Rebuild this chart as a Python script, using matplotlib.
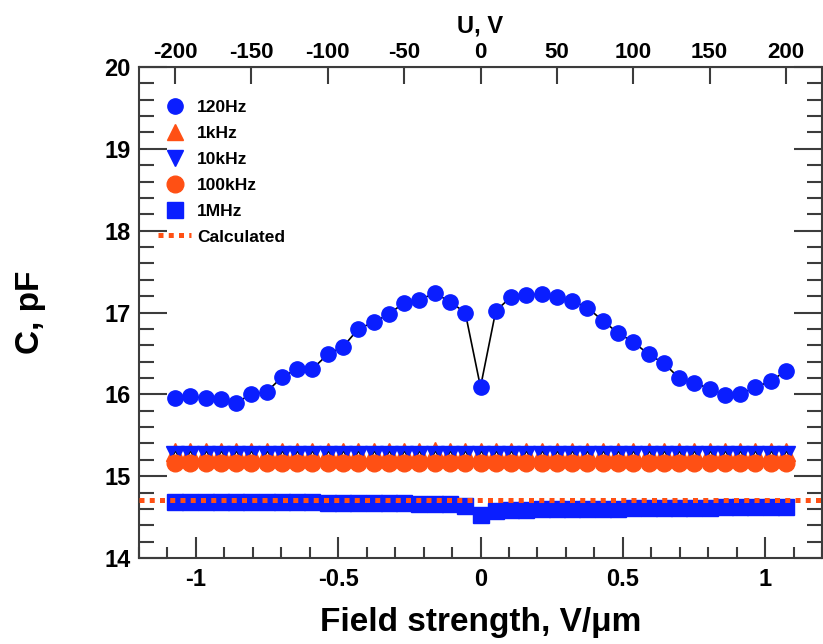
import matplotlib
matplotlib.use("Agg")
import matplotlib.pyplot as plt
from matplotlib.lines import Line2D
from matplotlib.ticker import MultipleLocator

plt.rcParams["font.family"] = ["Liberation Sans", "DejaVu Sans"]
plt.rcParams["font.weight"] = "bold"
plt.rcParams["axes.unicode_minus"] = False

BLUE = "#0a1eff"
ORANGE = "#ff5014"
AXIS = "#3c3c3c"

# bias voltage, V (top axis) and field strength (bottom axis)
volts = [-200, -190, -180, -170, -160, -150, -140, -130, -120, -110,
         -100, -90, -80, -70, -60, -50, -40, -30, -20, -10,
         0, 10, 20, 30, 40, 50, 60, 70, 80, 90,
         100, 110, 120, 130, 140, 150, 160, 170, 180, 190, 200]
V_PER_FIELD = 186.3  # V per (V/um)
field = [v / V_PER_FIELD for v in volts]

c_120hz = [15.95, 15.98, 15.95, 15.94, 15.90, 16.00, 16.03, 16.21, 16.31, 16.31,
           16.49, 16.58, 16.80, 16.88, 16.98, 17.12, 17.15, 17.24, 17.13, 17.00,
           16.09, 17.02, 17.19, 17.21, 17.23, 17.19, 17.14, 17.06, 16.90, 16.75,
           16.64, 16.49, 16.38, 16.20, 16.14, 16.07, 15.99, 16.00, 16.09, 16.16, 16.29]
c_1khz = [15.28, 15.28, 15.28, 15.28, 15.28, 15.28, 15.28, 15.28, 15.28, 15.29,
          15.28, 15.29, 15.28, 15.29, 15.29, 15.29, 15.29, 15.30, 15.29, 15.29,
          15.28, 15.28, 15.28, 15.28, 15.28, 15.28, 15.28, 15.28, 15.28, 15.28,
          15.28, 15.28, 15.28, 15.28, 15.28, 15.28, 15.28, 15.28, 15.28, 15.29, 15.29]
c_10khz = [15.255] * 41
c_100khz = [15.16] * 41
c_1mhz = [14.685, 14.685, 14.683, 14.683, 14.682, 14.682, 14.681, 14.680, 14.680, 14.679,
          14.677, 14.676, 14.675, 14.674, 14.672, 14.668, 14.666, 14.664, 14.660, 14.630,
          14.520, 14.575, 14.585, 14.590, 14.595, 14.600, 14.600, 14.602, 14.603, 14.605,
          14.606, 14.608, 14.610, 14.612, 14.614, 14.615, 14.618, 14.620, 14.622, 14.624, 14.626]
c_calc = 14.71

fig = plt.figure(figsize=(8.23, 6.44), dpi=100)
ax = fig.add_axes([0.1689, 0.1335, 0.8299, 0.7625])

ax.plot(field, [c + 0.01 for c in c_1khz], ls="none", marker="^", ms=13,
        color=ORANGE, mec=ORANGE, zorder=2)
ax.plot(field, c_10khz, ls="none", marker="v", ms=13, color=BLUE, mec=BLUE, zorder=3)
ax.plot(field, [c + 0.02 for c in c_10khz], ls="none", marker="^", ms=4,
        mfc="white", mec="black", mew=0.6, zorder=3.5)
ax.plot(field, c_100khz, ls="none", marker="o", ms=12, color=ORANGE, mec=ORANGE, zorder=4)
ax.plot(field, c_1mhz, ls="none", marker="s", ms=11.5, color=BLUE, mec=BLUE, zorder=5)
ax.axhline(c_calc, color=ORANGE, lw=3.6, ls=(0, (1, 1.05)),
           dash_capstyle="butt", zorder=6)
ax.plot(field, c_120hz, color="black", lw=1.2, marker="o", ms=11, mfc=BLUE,
        mec=BLUE, zorder=7)

ax.set_xlim(-1.2, 1.2)
ax.set_ylim(14, 20)
ax.xaxis.set_minor_locator(MultipleLocator(0.1))
ax.yaxis.set_major_locator(MultipleLocator(1))
ax.yaxis.set_minor_locator(MultipleLocator(0.2))
ax.set_xticks([-1, -0.5, 0, 0.5, 1])
ax.set_xticklabels(["-1", "-0.5", "0", "0.5", "1"])
ax.tick_params(axis="x", which="both", direction="in", top=False, labelsize=17,
               pad=7, color=AXIS, width=1.5)
ax.tick_params(axis="x", which="major", length=15)
ax.tick_params(axis="x", which="minor", length=8)
ax.tick_params(axis="y", which="both", direction="in", right=True, labelsize=17,
               pad=6, color=AXIS, width=1.5)
ax.tick_params(axis="y", which="major", length=20)
ax.tick_params(axis="y", which="minor", length=11)
for s in ax.spines.values():
    s.set_color(AXIS)
    s.set_linewidth(1.5)

ax.set_xlabel("Field strength, V/\u03bcm", fontsize=24, fontweight="bold", labelpad=12)
ax.set_ylabel("C, pF", fontsize=24, fontweight="bold", labelpad=42)

top = ax.secondary_xaxis("top", functions=(lambda x: x * V_PER_FIELD,
                                           lambda u: u / V_PER_FIELD))
top.set_xticks([-200, -150, -100, -50, 0, 50, 100, 150, 200])
top.tick_params(direction="in", length=12, width=1.5, color=AXIS, labelsize=16, pad=3)
top.spines["top"].set_color(AXIS)
top.set_xlabel("U, V", fontsize=17, fontweight="bold", labelpad=7)

# legend proxies (markers only, as in the original)
legend_items = [
    ("120Hz", dict(marker="o", color=BLUE, ms=11)),
    ("1kHz", dict(marker="^", color=ORANGE, ms=11)),
    ("10kHz", dict(marker="v", color=BLUE, ms=11)),
    ("100kHz", dict(marker="o", color=ORANGE, ms=12)),
    ("1MHz", dict(marker="s", color=BLUE, ms=11)),
]
handles = [Line2D([], [], ls="none", mec=kw["color"], mfc=kw["color"],
                  marker=kw["marker"], ms=kw["ms"]) for _, kw in legend_items]
handles.append(Line2D([], [], color=ORANGE, lw=3.6, ls=(0, (1, 1.05)),
                      dash_capstyle="butt"))
labels = [name for name, _ in legend_items] + ["Calculated"]
ax.legend(handles, labels, loc="upper left", frameon=False,
          prop={"size": 12.5, "weight": "bold"}, bbox_to_anchor=(0.005, 0.965),
          handlelength=1.9, handletextpad=0.35, labelspacing=0.62, numpoints=1)

fig.savefig("out.png", dpi=100)
